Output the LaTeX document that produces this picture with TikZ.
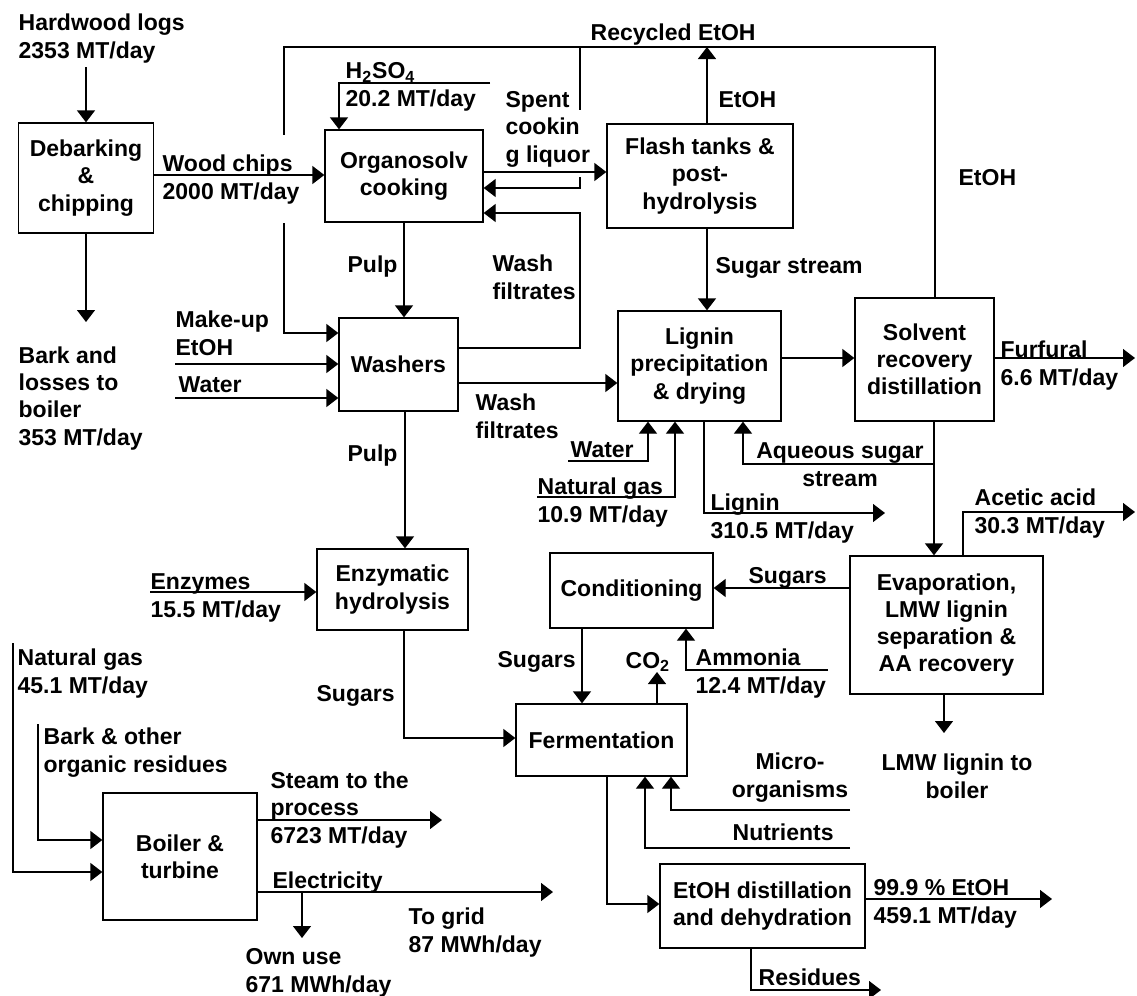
\documentclass[tikz,border=0pt]{standalone}
\usepackage{fontspec}
\setmainfont{Liberation Sans}
\usetikzlibrary{arrows.meta}
\begin{document}
\begin{tikzpicture}[x=0.5pt, y=-0.5pt, line width=0.65pt,
    >={Triangle[length=6pt,width=9pt]},
    every node/.style={font=\fontsize{11.5}{13.6}\selectfont\bfseries},
    unit/.style={draw, align=center, inner sep=0pt},
    lbl/.style={anchor=base west, align=left, inner sep=0pt},
    clbl/.style={anchor=base, align=center, inner sep=0pt}]
  \useasboundingbox (0,0) rectangle (1137,996);
  % process units
  \node[unit, minimum width=67.5pt, minimum height=55pt] (debark) at (86,178) {Debarking\\\&\\chipping};
  \node[unit, minimum width=79pt, minimum height=46pt] (organosolv) at (404,176) {Organosolv\\cooking};
  \node[unit, minimum width=93pt, minimum height=52pt] (flash) at (700,176) {Flash tanks \&\\post-\\hydrolysis};
  \node[unit, minimum width=59.5pt, minimum height=46.5pt] (washers) at (398.5,364.5) {Washers};
  \node[unit, minimum width=81.5pt, minimum height=55pt] (lignin) at (699.5,366) {Lignin\\precipitation\\\& drying};
  \node[unit, minimum width=69.5pt, minimum height=61.5pt] (solvent) at (924.5,359.5) {Solvent\\recovery\\distillation};
  \node[unit, minimum width=75.5pt, minimum height=40.5pt] (enzymatic) at (392.5,589.5) {Enzymatic\\hydrolysis};
  \node[unit, minimum width=81.5pt, minimum height=37.5pt] (conditioning) at (631.5,590.5) {Conditioning};
  \node[unit, minimum width=96.5pt, minimum height=69pt] (evaporation) at (946.5,625) {Evaporation,\\LMW lignin\\separation \&\\AA recovery};
  \node[unit, minimum width=85.5pt, minimum height=36pt] (fermentation) at (601.5,740) {Fermentation};
  \node[unit, minimum width=77pt, minimum height=63.5pt] (boiler) at (180,856.5) {Boiler \&\\turbine};
  \node[unit, minimum width=102.5pt, minimum height=42pt] (etohdist) at (762.5,906) {EtOH distillation\\and dehydration};
  % stream labels (placed at the baseline of their last line)
  \node[lbl] (logs) at (18,58) {Hardwood logs\\2353 MT/day};
  \node[lbl] (chips) at (162,199) {Wood chips\\2000 MT/day};
  \node[lbl] (barkloss) at (18,445) {Bark and\\losses to\\boiler\\353 MT/day};
  \node[lbl] (h2so4) at (345,106) {H\textsubscript{2}SO\textsubscript{4}\\20.2 MT/day};
  \node[lbl] (spent) at (505,162) {Spent\\cookin\\g liquor};
  \node[lbl] (recycled) at (590,40) {Recycled EtOH};
  \node[lbl] (etohup) at (718,107) {EtOH};
  \node[lbl] (etohright) at (958,185) {EtOH};
  \node[lbl] (pulpa) at (347,272) {Pulp};
  \node[lbl] (washa) at (492,299) {Wash\\filtrates};
  \node[lbl] (sugarstream) at (715,273) {Sugar stream};
  \node[lbl] (makeup) at (175,355) {Make-up\\EtOH};
  \node[lbl] (watera) at (178,392) {Water};
  \node[lbl] (washb) at (475,438) {Wash\\filtrates};
  \node[lbl] (pulpb) at (347,461) {Pulp};
  \node[lbl] (waterb) at (570,457) {Water};
  \node[lbl] (gasa) at (537,522) {Natural gas\\10.9 MT/day};
  \node[clbl] (aqueous) at (840,486) {Aqueous sugar\\stream};
  \node[lbl] (lignout) at (710,538) {Lignin\\310.5 MT/day};
  \node[lbl] (furfural) at (1000,385) {Furfural\\6.6 MT/day};
  \node[lbl] (acetic) at (974,533) {Acetic acid\\30.3 MT/day};
  \node[lbl] (sugarsa) at (748,583) {Sugars};
  \node[lbl] (enzymes) at (150,617) {Enzymes\\15.5 MT/day};
  \node[lbl] (gasb) at (17,693) {Natural gas\\45.1 MT/day};
  \node[lbl] (sugarsb) at (316,701) {Sugars};
  \node[lbl] (sugarsc) at (497,667) {Sugars};
  \node[lbl] (co2) at (625,668) {CO\textsubscript{2}};
  \node[lbl] (ammonia) at (695,693) {Ammonia\\12.4 MT/day};
  \node[clbl] (lmw) at (957,798) {LMW lignin to\\boiler};
  \node[lbl] (barkother) at (43,772) {Bark \& other\\organic residues};
  \node[lbl] (steam) at (270,843) {Steam to the\\process\\6723 MT/day};
  \node[lbl] (electricity) at (272,888) {Electricity};
  \node[lbl] (ownuse) at (245,992) {Own use\\671 MWh/day};
  \node[lbl] (togrid) at (408,952) {To grid\\87 MWh/day};
  \node[clbl] (micro) at (790,797) {Micro-\\organisms};
  \node[lbl] (nutrients) at (732,840) {Nutrients};
  \node[lbl] (product) at (873,923) {99.9 \% EtOH\\459.1 MT/day};
  \node[lbl] (residues) at (758,985) {Residues};
  % free ends
  \coordinate (logsend) at (86,67);
  \coordinate (barkend) at (86,322);
  \coordinate (h2so4in) at (490,83);
  \coordinate (makeupin) at (175,364);
  \coordinate (waterain) at (175,398);
  \coordinate (furfuralend) at (1135,358);
  \coordinate (waterbin) at (568,461);
  \coordinate (gasain) at (537,497);
  \coordinate (ligninend) at (885,513);
  \coordinate (aceticend) at (1135,512);
  \coordinate (lmwend) at (944,733);
  \coordinate (ammoniain) at (828,670);
  \coordinate (co2end) at (657,672);
  \coordinate (microin) at (850,810);
  \coordinate (nutrin) at (850,848);
  \coordinate (productend) at (1052,899);
  \coordinate (residend) at (881,990);
  \coordinate (enzin) at (150,592);
  \coordinate (gasbin) at (13,643);
  \coordinate (barkin) at (38,724);
  \coordinate (steamend) at (442,820);
  \coordinate (gridend) at (553,892);
  \coordinate (ownend) at (302,938);
  % streams
  \draw[->] (logsend) -- (debark.north);
  \draw[->] (debark.east |- 0,175) -- (organosolv.west |- 0,175);
  \draw[->] (debark.south) -- (barkend);
  \draw[->] (h2so4in) -| (organosolv.north -| 339,0);
  \draw[->] (organosolv.east |- 0,172) -- (flash.west |- 0,172);
  \draw[->] (flash.north -| 707,0) -- (707,47);
  \draw (solvent.north -| 935,0) |- (284,47) -- (284,135);
  \draw[->] (284,223) |- (washers.west |- 0,333);
  \draw (580,47) -- (580,110);
  \draw[->] (580,177) |- (organosolv.east |- 0,188);
  \draw[->] (washers.east |- 0,348) -| (580,213) -- (organosolv.east |- 0,213);
  \draw[->] (organosolv.south) -- (organosolv.south |- washers.north);
  \draw[->] (makeupin) -- (washers.west |- makeupin);
  \draw[->] (waterain) -- (washers.west |- waterain);
  \draw[->] (washers.south -| 405,0) -- (enzymatic.north -| 405,0);
  \draw[->] (washers.east |- 0,383) -- (lignin.west |- 0,383);
  \draw[->] (flash.south -| 707,0) -- (lignin.north -| 707,0);
  \draw[->] (lignin.east |- 0,358) -- (solvent.west |- 0,358);
  \draw[->] (solvent.east |- furfuralend) -- (furfuralend);
  \draw[->] (waterbin) -| (lignin.south -| 648,0);
  \draw[->] (gasain) -| (lignin.south -| 675,0);
  \draw[->] (lignin.south -| 704,0) |- (ligninend);
  \draw[->] (solvent.south -| 934,0) -- (evaporation.north -| 934,0);
  \draw[->] (934,464) -| (lignin.south -| 743,0);
  \draw[->] (evaporation.north -| 963,0) |- (aceticend);
  \draw[->] (evaporation.west |- 0,588) -- (conditioning.east |- 0,588);
  \draw[->] (evaporation.south -| lmwend) -- (lmwend);
  \draw[->] (ammoniain) -| (conditioning.south -| 686,0);
  \draw[->] (conditioning.south -| 582,0) -- (fermentation.north -| 582,0);
  \draw[->] (fermentation.north -| co2end) -- (co2end);
  \draw[->] (enzymatic.south -| 404,0) |- (fermentation.west |- 0,738);
  \draw[->] (microin) -| (fermentation.south -| 671,0);
  \draw[->] (nutrin) -| (fermentation.south -| 645,0);
  \draw[->] (fermentation.south -| 607,0) |- (etohdist.west |- 0,904);
  \draw[->] (etohdist.east |- productend) -- (productend);
  \draw[->] (etohdist.south -| 751,0) |- (residend);
  \draw[->] (enzin) -- (enzymatic.west |- enzin);
  \draw[->] (gasbin) |- (boiler.west |- 0,872);
  \draw[->] (barkin) |- (boiler.west |- 0,840);
  \draw[->] (boiler.east |- steamend) -- (steamend);
  \draw[->] (boiler.east |- gridend) -- (gridend);
  \draw[->] (ownend |- gridend) -- (ownend);
\end{tikzpicture}
\end{document}
